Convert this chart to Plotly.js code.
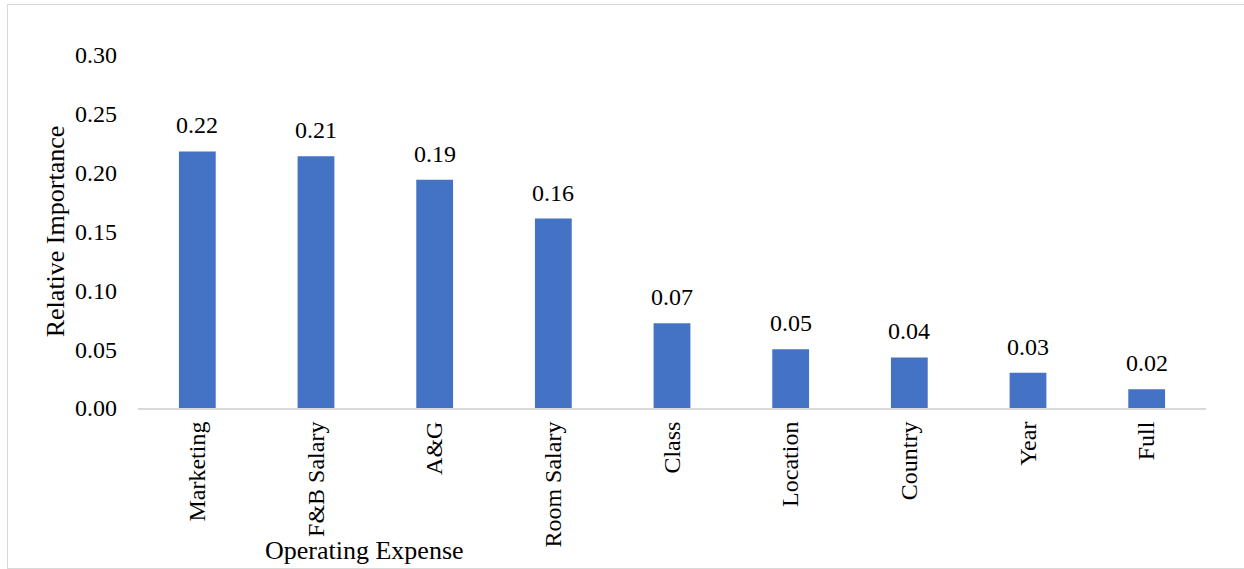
<!DOCTYPE html>
<html>
<head>
<meta charset="utf-8">
<script src="https://cdn.plot.ly/plotly-3.0.1.min.js"></script>
<style>
  html, body { margin: 0; padding: 0; background: #fff; }
  #wrap { position: relative; width: 1244px; height: 569px; overflow: hidden; }
  #chart { position: absolute; left: 0; top: 0; width: 1244px; height: 569px; }
  #frame { position: absolute; left: 7px; top: 4px; width: 1260px; height: 563px; border: 1px solid #d9d9d9; pointer-events: none; }
</style>
</head>
<body>
<div id="wrap">
  <div id="chart"></div>
  <div id="frame"></div>
</div>
<script>
const categories = ["Marketing", "F&B Salary", "A&G", "Room Salary", "Class", "Location", "Country", "Year", "Full"];
const importance = [0.218, 0.214, 0.194, 0.161, 0.072, 0.050, 0.043, 0.030, 0.016];
const yTickValues = [0, 0.05, 0.10, 0.15, 0.20, 0.25, 0.30];
const yTickLabels = ["0.00", "0.05", "0.10", "0.15", "0.20", "0.25", "0.30"];

const font = "Liberation Serif, Times New Roman, serif";

const trace = {
  type: "bar",
  x: categories,
  y: importance,
  marker: { color: "#4472C4" },
  hoverinfo: "x+y"
};

const valueLabels = categories.map((c, i) => ({
  x: c,
  y: importance[i],
  xref: "x", yref: "y",
  text: importance[i].toFixed(2),
  showarrow: false,
  xanchor: "center",
  yanchor: "bottom",
  yshift: 11,
  font: { family: font, size: 24, color: "#000" }
}));

const layout = {
  width: 1244,
  height: 569,
  margin: { l: 138, r: 38, t: 55, b: 161 },
  paper_bgcolor: "rgba(0,0,0,0)",
  plot_bgcolor: "rgba(0,0,0,0)",
  bargap: 0.69,
  showlegend: false,
  font: { family: font, size: 24, color: "#000" },
  xaxis: {
    type: "category",
    tickangle: -90,
    showgrid: false,
    showline: true,
    linecolor: "#d9d9d9",
    linewidth: 2,
    ticks: "",
    tickfont: { family: font, size: 24, color: "#000" },
    ticklabelstandoff: 2
  },
  yaxis: {
    range: [0, 0.30],
    tickvals: yTickValues,
    ticktext: yTickLabels,
    showgrid: false,
    zeroline: false,
    showline: false,
    ticks: "",
    tickfont: { family: font, size: 24, color: "#000" },
    ticklabelstandoff: 20,
    title: { text: "Relative Importance", font: { family: font, size: 26, color: "#000" }, standoff: 2 }
  },
  annotations: valueLabels.concat([
    {
      text: "Operating Expense",
      xref: "paper", yref: "paper",
      x: (364 - 138) / 1068, y: -(550 - 408) / 353,
      xanchor: "center", yanchor: "middle",
      showarrow: false,
      font: { family: font, size: 26, color: "#000" }
    }
  ])
};

Plotly.newPlot("chart", [trace], layout, { displayModeBar: false, staticPlot: true });
</script>
</body>
</html>
